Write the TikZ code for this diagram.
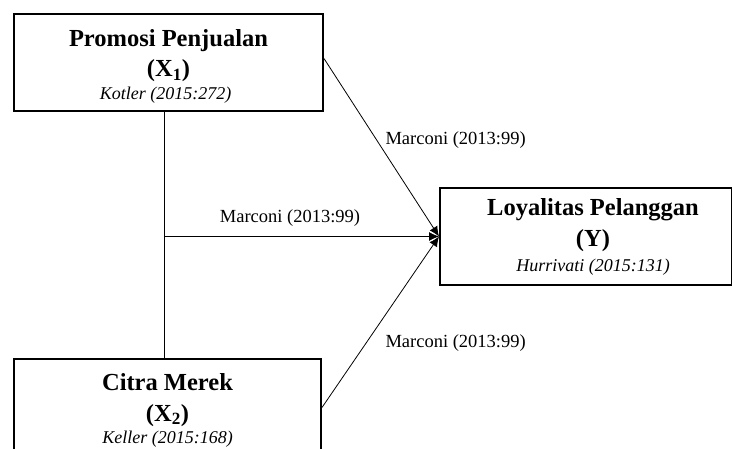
\documentclass[tikz,border=0pt]{standalone}
\usepackage{fontspec}
\setmainfont{Liberation Serif}
\usetikzlibrary{arrows.meta}

\begin{document}
\begin{tikzpicture}[x=1pt,y=-1pt,
  varbox/.style={draw,line width=2pt,minimum height=97pt,anchor=north west,inner sep=0pt},
  ttl/.style={anchor=base,inner sep=0pt,font=\fontsize{24.5}{30}\selectfont\bfseries},
  src/.style={anchor=base,inner sep=0pt,font=\fontsize{18}{20}\selectfont\itshape},
  lbl/.style={font=\fontsize{18.5}{20}\selectfont},
  link/.style={line width=0.8pt},
  arr/.style={link,-{Latex[length=10pt,width=9pt]}}]
\useasboundingbox (0,0) rectangle (732,449);
\clip (0,0) rectangle (732,449);
\node[varbox,minimum width=309pt] (x1) at (13,13) {};
\node[ttl] (x1a) at ([yshift=-33.5pt]x1.north) {Promosi Penjualan};
\node[ttl] (x1b) at ([yshift=-64pt]x1.north) {(X\textsubscript{1})};
\node[src] (x1c) at ([yshift=-87pt,xshift=-3pt]x1.north) {Kotler (2015:272)};
\node[varbox,minimum width=307pt] (x2) at (13,358) {};
\node[ttl] (x2a) at ([yshift=-33pt]x2.north) {Citra Merek};
\node[ttl] (x2b) at ([yshift=-63pt]x2.north) {(X\textsubscript{2})};
\node[src] (x2c) at ([yshift=-86pt]x2.north) {Keller (2015:168)};
\node[varbox,minimum width=292pt] (y) at (439,187) {};
\node[ttl] (ya) at ([yshift=-28.5pt,xshift=7pt]y.north) {Loyalitas Pelanggan};
\node[ttl] (yb) at ([yshift=-60pt,xshift=7pt]y.north) {(Y)};
\node[src] (yc) at ([yshift=-84.5pt,xshift=7pt]y.north) {Hurrivati (2015:131)};
\coordinate (top) at ([xshift=-4.5pt]x1.south);
\coordinate (bot) at (top |- x2.north);
\coordinate (mid) at (top |- y.west);
\draw[link] (top)--(bot);
\draw[arr] (mid)--(y.west);
\draw[arr] ([yshift=4pt]x1.east)--(y.west);
\draw[arr] (x2.east)--(y.west);
\node[lbl,anchor=west] (l1) at (382,140) {Marconi (2013:99)};
\node[lbl] (l2) at (290,218) {Marconi (2013:99)};
\node[lbl,anchor=west] (l3) at (382,343) {Marconi (2013:99)};
\end{tikzpicture}
\end{document}
